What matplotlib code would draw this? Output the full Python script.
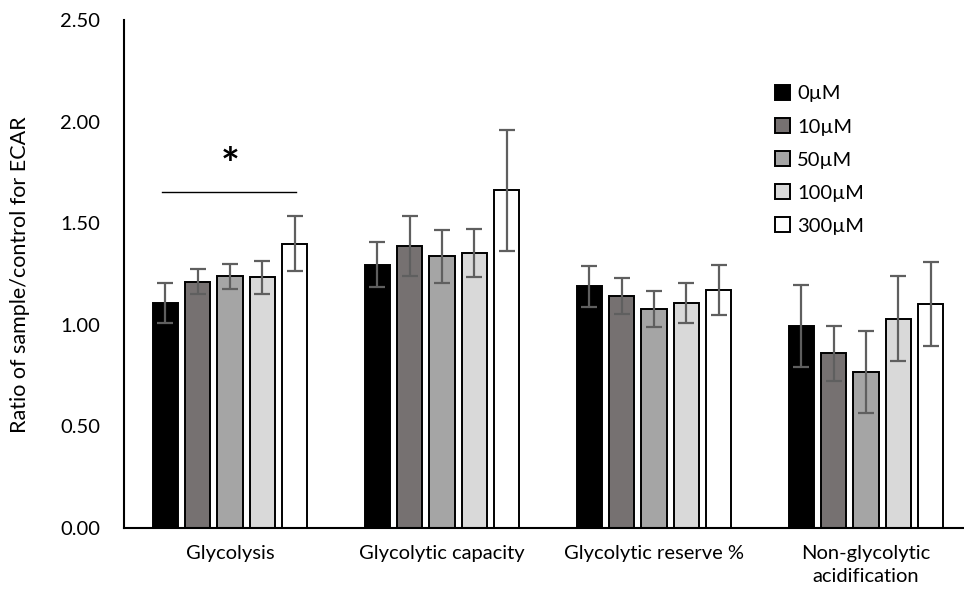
import numpy as np
import matplotlib.pyplot as plt

plt.rcParams['font.family'] = ['Lato', 'DejaVu Sans']

categories = ["Glycolysis", "Glycolytic capacity", "Glycolytic reserve %",
              "Non-glycolytic\nacidification"]
doses = ["0µM", "10µM", "50µM", "100µM", "300µM"]
values = [
    [1.107, 1.296, 1.189, 0.994],   # 0uM
    [1.213, 1.389, 1.141, 0.859],   # 10uM
    [1.238, 1.338, 1.079, 0.767],   # 50uM
    [1.233, 1.355, 1.108, 1.031],   # 100uM
    [1.399, 1.662, 1.172, 1.103],   # 300uM
]
errors = [
    [0.098, 0.112, 0.101, 0.204],
    [0.062, 0.148, 0.089, 0.136],
    [0.062, 0.130, 0.089, 0.202],
    [0.082, 0.118, 0.097, 0.207],
    [0.135, 0.297, 0.123, 0.207],
]
colors = ["#000000", "#767171", "#A5A5A5", "#D9D9D9", "#FFFFFF"]

fig = plt.figure(figsize=(9.64, 6.01), dpi=100)
ax = fig.add_axes([124/964, 73/601, 848/964, 508/601])

x = np.arange(len(categories))
width = 0.118
step = 0.153
for i, (name, vals, errs, c) in enumerate(zip(doses, values, errors, colors)):
    pos = x + (i - 2) * step
    ax.bar(pos, vals, width, color=c, edgecolor="black", linewidth=1.4,
           label=name, zorder=2)
    ax.errorbar(pos, vals, yerr=errs, fmt="none", ecolor="#5f5f5f",
                elinewidth=1.6, capsize=5.5, capthick=1.6, zorder=3)

# significance marker
ax.plot([-0.32, 0.31], [1.654, 1.654], color="black", linewidth=1, zorder=3)
ax.text(0, 1.78, "*", ha="center", va="center", fontsize=32, fontweight="bold")

ax.set_xlim(-0.5, 3.5)
ax.set_ylim(0, 2.5)
ax.set_yticks(np.arange(0, 2.51, 0.5))
ax.set_yticklabels([f"{v:.2f}" for v in np.arange(0, 2.51, 0.5)])
ax.set_xticks(x)
ax.set_xticklabels(categories, linespacing=1.45)
ax.tick_params(axis="both", length=0, labelsize=14.5, colors="black")
ax.tick_params(axis="x", pad=12)
ax.tick_params(axis="y", pad=17)
for s in ["top", "right"]:
    ax.spines[s].set_visible(False)
ax.spines["left"].set_linewidth(1.5)
ax.spines["bottom"].set_linewidth(1.5)

fig.text(20/964, 1 - 275/601, "Ratio of sample/control for ECAR", rotation=90,
         ha="center", va="center", fontsize=15.5)

ax.legend(loc="upper left", bbox_to_anchor=(775/964, 1 - 85/601),
          bbox_transform=fig.transFigure, frameon=False, fontsize=14.5,
          handlelength=0.75, handleheight=0.75, handletextpad=0.35,
          labelspacing=0.78, borderaxespad=0, borderpad=0)

fig.savefig("out.png", dpi=100)
